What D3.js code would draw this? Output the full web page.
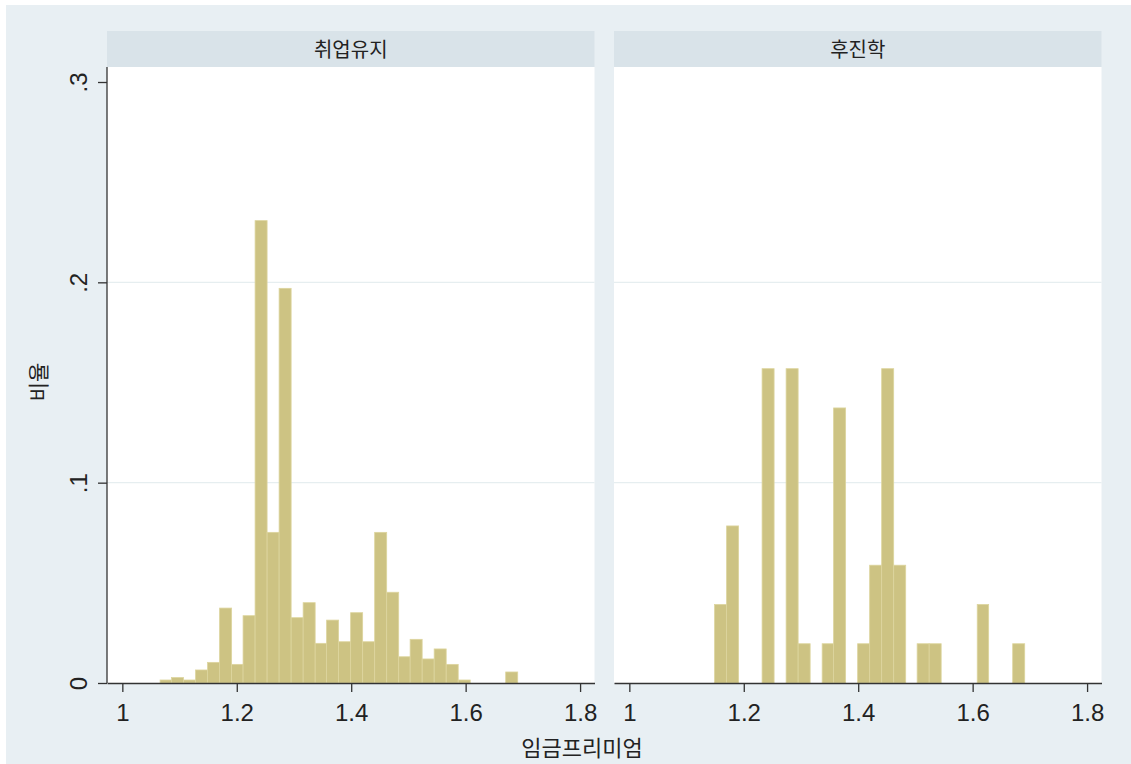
<!DOCTYPE html>
<html lang="ko">
<head>
    <meta charset="UTF-8">
    <title>임금프리미엄 히스토그램</title>
    <style>
        body { margin: 0; background: #ffffff; }
        svg { display: block; }
        text { font-family: "Liberation Sans", Arial, "Noto Sans CJK KR", sans-serif; fill: #222; }
        .kr { font-family: "Noto Sans CJK KR", "Liberation Sans", sans-serif; }
    </style>
    <script src="https://d3js.org/d3.v7.min.js"></script>
</head>
<body>
<svg id="chart" width="1131" height="764"></svg>
<script>
// panels (by-group titles)
const panels = ["취업유지", "후진학"];

// histogram bin edges (31 edges -> 30 bins)
const binEdges = [1.066, 1.086, 1.107, 1.128, 1.149, 1.170, 1.191, 1.211, 1.232, 1.253,
                  1.274, 1.295, 1.316, 1.337, 1.357, 1.378, 1.399, 1.420, 1.441, 1.462,
                  1.483, 1.503, 1.524, 1.545, 1.566, 1.587, 1.608, 1.628, 1.649, 1.670, 1.691];

// proportion per bin
const employedShare = [0.0015, 0.0027, 0.0015, 0.0065, 0.0103, 0.0374, 0.0093, 0.0336, 0.2308, 0.0752,
                       0.197, 0.0326, 0.0401, 0.0198, 0.0314, 0.0206, 0.0351, 0.0206, 0.0752, 0.0453,
                       0.0131, 0.0218, 0.012, 0.017, 0.0093, 0.0015, 0, 0, 0, 0.0055];
const studyShare = [0, 0, 0, 0, 0.0392, 0.0784, 0, 0, 0.1569, 0,
                    0.1569, 0.0196, 0, 0.0196, 0.1373, 0, 0.0196, 0.0588, 0.1569, 0.0588,
                    0, 0.0196, 0.0196, 0, 0, 0, 0.0392, 0, 0, 0.0196];

const xTicks = [1, 1.2, 1.4, 1.6, 1.8];
const yTicks = [0, 0.1, 0.2, 0.3];
const yGrid = [0.1, 0.2];

const series = [employedShare, studyShare];

const svg = d3.select("#chart");
const plotTop = 67, plotBottom = 683, headerTop = 31;
const panelLeft = [107, 614];
const panelW = 487.5;

// graph region background
svg.append("rect")
    .attr("x", 6).attr("y", 5)
    .attr("width", 1125).attr("height", 759)
    .attr("fill", "#e8eff3");

const y = d3.scaleLinear().domain([0, 0.3]).range([plotBottom, 82]);

panels.forEach((name, p) => {
    const left = panelLeft[p];
    const x = d3.scaleLinear().domain([0.9732, 1.8252]).range([left, left + panelW]);

    // header strip
    svg.append("rect")
        .attr("x", left).attr("y", headerTop)
        .attr("width", panelW).attr("height", plotTop - headerTop)
        .attr("fill", "#d9e3e9");
    svg.append("text")
        .attr("class", "kr")
        .attr("x", left + panelW / 2).attr("y", 57)
        .attr("text-anchor", "middle")
        .attr("font-size", "20px")
        .text(name);

    // plot region
    svg.append("rect")
        .attr("x", left).attr("y", plotTop)
        .attr("width", panelW).attr("height", plotBottom - plotTop)
        .attr("fill", "#ffffff");

    // gridlines
    svg.append("g").selectAll("line")
        .data(yGrid)
        .enter().append("line")
        .attr("x1", left).attr("x2", left + panelW)
        .attr("y1", d => y(d)).attr("y2", d => y(d))
        .attr("stroke", "#e6eef0")
        .attr("stroke-width", 1.2);

    // bars
    const bins = series[p].map((v, i) => ({ x0: binEdges[i], x1: binEdges[i + 1], v: v }))
        .filter(d => d.v > 0);
    svg.append("g").selectAll("rect")
        .data(bins)
        .enter().append("rect")
        .attr("x", d => x(d.x0))
        .attr("y", d => y(d.v))
        .attr("width", d => x(d.x1) - x(d.x0))
        .attr("height", d => y(0) - y(d.v))
        .attr("fill", "#cdc383")
        .attr("stroke", "#ddd59e")
        .attr("stroke-width", 0.8);

    // x axis
    const xAxis = svg.append("g")
        .attr("transform", `translate(0,${plotBottom})`)
        .call(d3.axisBottom(x).tickValues(xTicks).tickSize(9).tickSizeOuter(0)
            .tickFormat(d => d === 1 ? "1" : d3.format(".1f")(d)));
    xAxis.select(".domain").attr("stroke", "#333").attr("stroke-width", 1.3);
    xAxis.selectAll(".tick line").attr("stroke", "#333").attr("stroke-width", 1.3);
    xAxis.selectAll(".tick text")
        .attr("y", 38).attr("dy", 0)
        .attr("font-size", "24px")
        .attr("fill", "#222");

    // y axis only on the first panel
    if (p === 0) {
        const yAxis = svg.append("g")
            .attr("transform", `translate(${left},0)`)
            .call(d3.axisLeft(y).tickValues(yTicks).tickSize(9).tickSizeOuter(0)
                .tickFormat(d => d === 0 ? "0" : d3.format(".1f")(d).replace("0.", ".")));
        yAxis.select(".domain").attr("d", `M0,${plotTop}V${plotBottom}`)
            .attr("stroke", "#333").attr("stroke-width", 1.3);
        yAxis.selectAll(".tick line").attr("stroke", "#333").attr("stroke-width", 1.3);
        yAxis.selectAll(".tick text")
            .attr("x", 0).attr("dy", 0)
            .attr("text-anchor", "middle")
            .attr("transform", "translate(-20,0) rotate(-90)")
            .attr("font-size", "24px")
            .attr("fill", "#222");
    }
});

// axis titles
svg.append("text")
    .attr("class", "kr")
    .attr("transform", "translate(46,382) rotate(-90)")
    .attr("text-anchor", "middle")
    .attr("font-size", "21px")
    .text("비율");

svg.append("text")
    .attr("class", "kr")
    .attr("x", 582).attr("y", 756)
    .attr("text-anchor", "middle")
    .attr("font-size", "22px")
    .text("임금프리미엄");
</script>
</body>
</html>
